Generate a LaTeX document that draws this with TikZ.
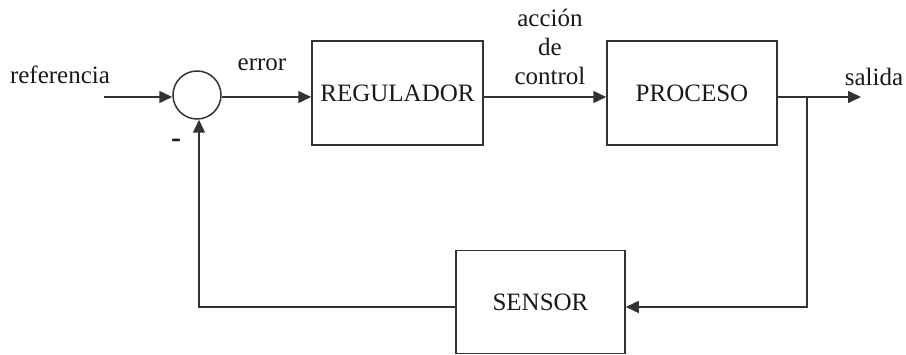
\documentclass[tikz,border=0pt]{standalone}
\usepackage{fontspec}
\setmainfont{Liberation Serif}
\usetikzlibrary{arrows.meta,calc}
\begin{document}
\begin{tikzpicture}[x=1pt,y=-1pt,
  every node/.style={font=\fontsize{25}{30}\selectfont, text=black!90},
  blk/.style={draw=black!80, line width=1.5pt, minimum width=#1, inner sep=0pt},
  wire/.style={draw=black!80, line width=1.5pt},
  arr/.style={wire, -{Triangle[length=13pt,width=12pt]}}
]
\useasboundingbox (0,0) rectangle (906,355);
% summing junction
\node[circle, draw=black!80, line width=1.5pt, minimum size=48pt, inner sep=0pt] (sum) at (197,95) {};
% blocks
\node[blk=171pt, minimum height=104pt] (reg) at (397.5,93) {REGULADOR};
\node[blk=170pt, minimum height=104pt] (proc) at (692,93) {PROCESO};
\node[blk=169pt, minimum height=103pt] (sens) at (540.5,302) {SENSOR};
% labels
\node (ref) at (60,75) {referencia};
\node (err) at (262,65) {error};
\node[align=center] (acc) at (550,47) {acción\\[-1pt]de\\[-1pt]control};
\node (sal) at (874,77) {salida};
\node[font=\fontsize{30}{30}\bfseries] (minus) at (176,143) {-};
% coordinates
\coordinate (in) at (104,97);
\coordinate (out) at (861,97);
\coordinate (br) at (807,97);
\coordinate (fbR) at (807,307);
\coordinate (fbL) at (199,307);
% connectors
\draw[arr] (in) -- (in -| sum.west);
\draw[arr] (sum.east |- in) -- (in -| reg.west);
\draw[arr] (in -| reg.east) -- (in -| proc.west);
\draw[arr] (in -| proc.east) -- (out);
\draw[arr] (br) -- (fbR) -- (fbR -| sens.east);
\draw[arr] (fbR -| sens.west) -- (fbL) -- (fbL |- sum.south);
\end{tikzpicture}
\end{document}
